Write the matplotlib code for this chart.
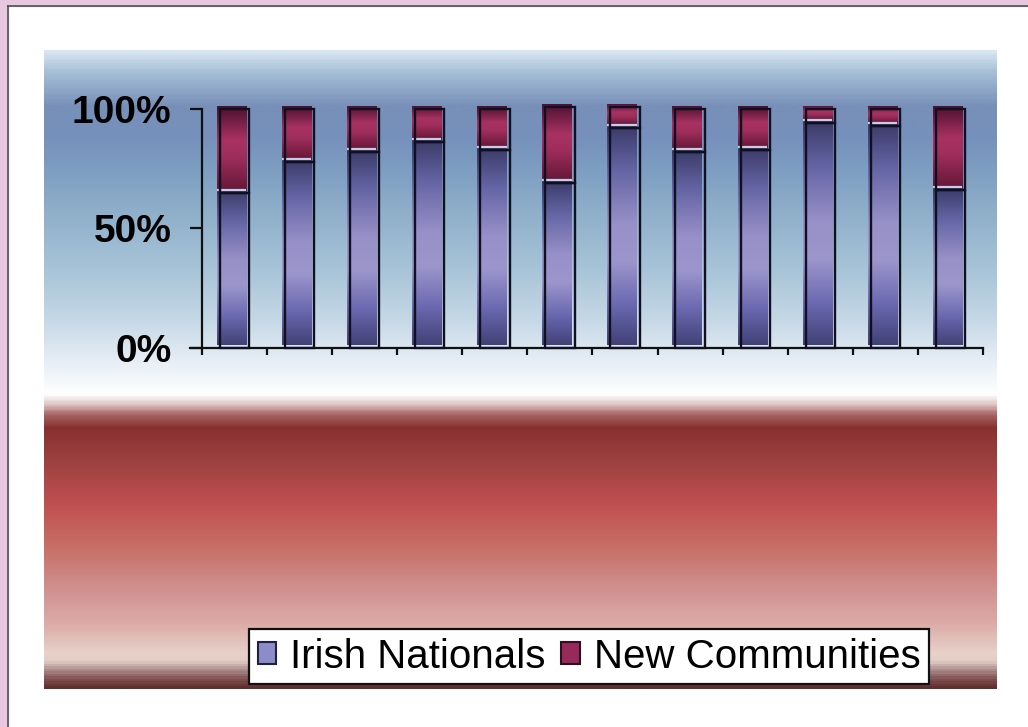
import numpy as np
import matplotlib
matplotlib.use("Agg")
import matplotlib.pyplot as plt
from matplotlib.colors import LinearSegmentedColormap
from matplotlib.transforms import offset_copy
from matplotlib.patches import Rectangle, Patch

plt.rcParams["font.family"] = ["Liberation Sans", "DejaVu Sans"]

# share of attendees per site (%)
sites = list(range(1, 13))
irish = [65, 78, 82, 86, 83, 69, 92, 82, 83, 94, 93, 66]
new_comm = [35, 22, 18, 14, 17, 32, 9, 18, 17, 6, 7, 34]
yticks = [0, 50, 100]
ytick_labels = ["0%", "50%", "100%"]

W, H = 1028, 727
fig = plt.figure(figsize=(W / 100, H / 100), dpi=100, facecolor="white")

# pink frame strip on top / left
fig.patches.append(Rectangle((0, 0), 8 / W, 1, transform=fig.transFigure, color="#e8c8e0", zorder=0))
fig.patches.append(Rectangle((0, 1 - 6 / H), 1, 6 / H, transform=fig.transFigure, color="#e8c8e0", zorder=0))
fig.lines.append(plt.Line2D([8 / W, 8 / W], [0, 1 - 6 / H], transform=fig.transFigure, color="#505050", lw=1.2))
fig.lines.append(plt.Line2D([8 / W, 1], [1 - 6 / H, 1 - 6 / H], transform=fig.transFigure, color="#505050", lw=1.2))

# backdrop: blue sky fading to white, then red band
bg_stops = [(0.000, "#d8e6f2"), (0.031, "#a8c0d8"), (0.086, "#7890b8"), (0.133, "#7690bc"),
            (0.188, "#7e9ec2"), (0.266, "#92b2cc"), (0.344, "#a8c4d8"), (0.423, "#c6d8e6"),
            (0.477, "#e2ebf3"), (0.524, "#f8fafc"), (0.540, "#ffffff"), (0.556, "#dcc0c0"),
            (0.571, "#a86464"), (0.592, "#883030"), (0.642, "#9c4040"), (0.712, "#c05050"),
            (0.782, "#c87068"), (0.845, "#d09090"), (0.900, "#dcaca8"), (0.947, "#e8d2ca"),
            (0.959, "#e0ccc4"), (0.973, "#a88888"), (0.987, "#805050"), (1.000, "#603030")]
bg_cmap = LinearSegmentedColormap.from_list("bg", bg_stops)
bg = fig.add_axes([44 / W, 1 - 689 / H, (997 - 44) / W, (689 - 50) / H], zorder=0)
bg.imshow(np.linspace(0, 1, 640).reshape(-1, 1), cmap=bg_cmap, aspect="auto", interpolation="bilinear")
bg.set_axis_off()

ax = fig.add_axes([202 / W, 1 - 348 / H, (983 - 202) / W, (348 - 109) / H], zorder=1)
ax.set_facecolor("none")

blue_cmap = LinearSegmentedColormap.from_list(
    "irish", [(0, "#3a3a68"), (0.2, "#6464a4"), (0.45, "#9890c8"), (0.62, "#9c96cc"),
              (0.82, "#6a68b0"), (1, "#424278")])
red_cmap = LinearSegmentedColormap.from_list(
    "newc", [(0, "#4a1030"), (0.4, "#a83262"), (0.6, "#a02e5c"), (1, "#661838")])

x = np.arange(len(sites))
w = 0.45
shift = offset_copy(ax.transData, fig=fig, x=-3, y=3, units="dots")
grad = np.linspace(0, 1, 200).reshape(-1, 1)

fills_b = ax.bar(x, irish, w, color="none", edgecolor="none", transform=shift, clip_on=False)
fills_r = ax.bar(x, new_comm, w, bottom=irish, color="none", edgecolor="none", transform=shift, clip_on=False)
for bars, cmap in ((fills_b, blue_cmap), (fills_r, red_cmap)):
    for p in bars:
        x0, y0 = p.get_x(), p.get_y()
        im = ax.imshow(grad, cmap=cmap, aspect="auto", interpolation="bilinear",
                       extent=[x0, x0 + p.get_width(), y0, y0 + p.get_height()],
                       transform=shift, zorder=2)
        im.set_clip_path(p)

# pale highlight on top of the lower segment
ax.hlines(irish, x - w / 2, x + w / 2, colors="#c8cce8", lw=1.6, transform=shift, zorder=3)

# outlines at the true positions
ax.bar(x, irish, w, color="none", edgecolor="#101020", lw=1.7, zorder=4, clip_on=False)
ax.bar(x, new_comm, w, bottom=irish, color="none", edgecolor="#101020", lw=1.7, zorder=4, clip_on=False)

ax.set_xlim(-0.5, len(sites) - 0.5)
ax.set_ylim(0, 100)
ax.set_xticks(np.arange(len(sites) + 1) - 0.5)
ax.set_xticklabels([])
ax.set_yticks(yticks)
ax.set_yticklabels(ytick_labels, fontsize=28, fontweight="bold")
ax.tick_params(axis="y", length=9, width=1.6, direction="out", pad=13, color="#101010")
ax.tick_params(axis="x", length=5, width=1.6, direction="out", color="#101010")
for s in ("top", "right"):
    ax.spines[s].set_visible(False)
for s in ("left", "bottom"):
    ax.spines[s].set_linewidth(1.6)
    ax.spines[s].set_color("#101010")
ax.spines["bottom"].set_bounds(-0.5 - 12 / 65, len(sites) - 0.5)

handles = [Patch(facecolor="#8c8cc8", edgecolor="#202040", lw=1.5, label="Irish Nationals"),
           Patch(facecolor="#962a5a", edgecolor="#301020", lw=1.5, label="New Communities")]
leg = fig.legend(handles=handles, loc="center", bbox_to_anchor=(589 / W, 1 - 656.5 / H), ncol=2,
                 fontsize=29, frameon=True, fancybox=False, framealpha=1, edgecolor="#101010",
                 handlelength=0.45, handleheight=0.45, handletextpad=0.35, columnspacing=0.4,
                 borderpad=0.22, borderaxespad=0)
leg.get_frame().set_linewidth(1.6)

fig.savefig("out.png", dpi=100)
